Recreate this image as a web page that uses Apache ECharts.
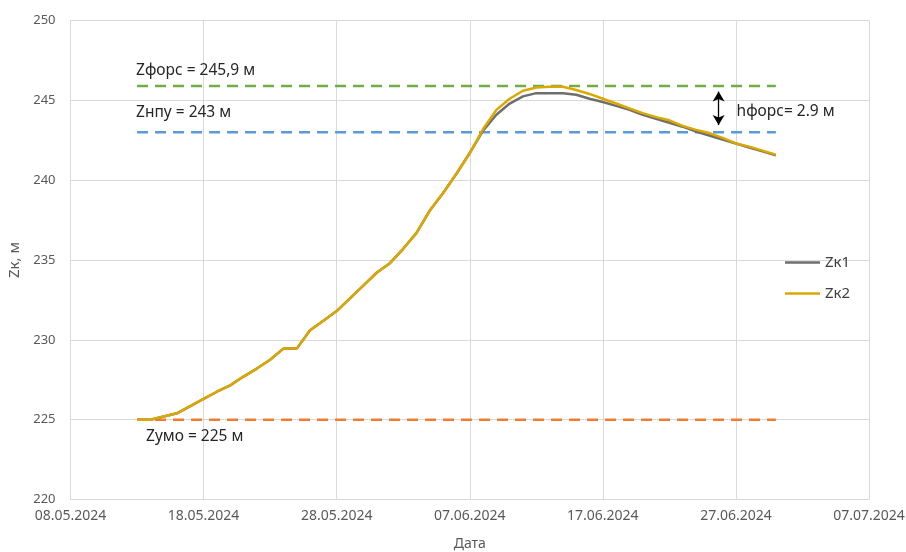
<!DOCTYPE html>
<html>
<head>
<meta charset="utf-8">
<style>
  html, body { margin: 0; padding: 0; background: #fff; }
  #chart { width: 906px; height: 552px; }
</style>
<script src="https://cdn.jsdelivr.net/npm/echarts@6/dist/echarts.min.js"></script>
</head>
<body>
<div id="chart"></div>
<script>
// ось X: даты наблюдений
const dates = [
  '13.05.2024', '14.05.2024', '15.05.2024', '16.05.2024', '17.05.2024', '18.05.2024', '19.05.2024',
  '20.05.2024', '21.05.2024', '22.05.2024', '23.05.2024', '24.05.2024', '25.05.2024', '26.05.2024',
  '27.05.2024', '28.05.2024', '29.05.2024', '30.05.2024', '31.05.2024', '01.06.2024', '02.06.2024',
  '03.06.2024', '04.06.2024', '05.06.2024', '06.06.2024', '07.06.2024', '08.06.2024', '09.06.2024',
  '10.06.2024', '11.06.2024', '12.06.2024', '13.06.2024', '14.06.2024', '15.06.2024', '16.06.2024',
  '17.06.2024', '18.06.2024', '19.06.2024', '20.06.2024', '21.06.2024', '22.06.2024', '23.06.2024',
  '24.06.2024', '25.06.2024', '26.06.2024', '27.06.2024', '28.06.2024', '29.06.2024', '30.06.2024'
]

const zk1 = [
  225.0, 225.0, 225.2, 225.4, 225.85, 226.3, 226.75,
  227.15, 227.7, 228.2, 228.75, 229.45, 229.45, 230.6,
  231.2, 231.8, 232.6, 233.4, 234.2, 234.8, 235.7,
  236.7, 238.1, 239.2, 240.4, 241.7, 243.1, 244.1,
  244.8, 245.25, 245.45, 245.45, 245.45, 245.35, 245.1,
  244.9, 244.65, 244.4, 244.1, 243.85, 243.6, 243.35,
  243.05, 242.8, 242.55, 242.3, 242.05, 241.8, 241.55
]

const zk2 = [
  225.0, 225.0, 225.2, 225.4, 225.85, 226.3, 226.75,
  227.15, 227.7, 228.2, 228.75, 229.45, 229.45, 230.6,
  231.2, 231.8, 232.6, 233.4, 234.2, 234.8, 235.7,
  236.7, 238.1, 239.2, 240.4, 241.7, 243.2, 244.4,
  245.1, 245.6, 245.8, 245.85, 245.85, 245.65, 245.4,
  245.1, 244.8, 244.5, 244.2, 243.95, 243.75, 243.4,
  243.15, 242.95, 242.65, 242.3, 242.1, 241.85, 241.6
]

// характерные уровни
const zForce = 245.9
const zNpu = 243
const zUmo = 225
const hForce = 2.9

const xStart = '08.05.2024'
const xEnd = '07.07.2024'
const yTicks = [220, 225, 230, 235, 240, 245, 250]

const DAY = 86400000
const toMs = s => {
  const [d, m, y] = s.split('.').map(Number)
  return Date.UTC(y, m - 1, d)
}
const t0 = toMs(xStart)
const toDay = s => Math.round((toMs(s) - t0) / DAY)
const dayLabel = v => {
  const dt = new Date(t0 + v * DAY)
  const p = n => String(n).padStart(2, '0')
  return p(dt.getUTCDate()) + '.' + p(dt.getUTCMonth() + 1) + '.' + dt.getUTCFullYear()
}

const days = dates.map(toDay)
const firstDay = days[0]
const lastDay = days[days.length - 1]
const refLine = v => [[firstDay, v], [lastDay, v]]

const font = '"Noto Sans", sans-serif'
const chart = echarts.init(document.getElementById('chart'))

const option = {
  animation: false,
  textStyle: { fontFamily: font },
  grid: { left: 70.5, right: 37, top: 20.5, bottom: 52.5, outerBoundsMode: 'none', containLabel: false },
  legend: {
    data: ['Zк1', 'Zк2'],
    orient: 'vertical',
    left: 780,
    top: 250,
    icon: 'rect',
    itemWidth: 35,
    itemHeight: 2.5,
    itemGap: 16,
    textStyle: { fontSize: 15, color: '#404040', fontFamily: font, lineHeight: 14, height: 14 }
  },
  xAxis: {
    type: 'value',
    min: 0,
    max: toDay(xEnd),
    interval: 10,
    name: 'Дата',
    nameLocation: 'middle',
    nameGap: 38,
    nameTextStyle: { fontSize: 14, color: '#595959' },
    axisLine: { show: true, lineStyle: { color: '#d9d9d9', width: 1 } },
    axisTick: { show: false },
    axisLabel: { fontSize: 14, color: '#595959', margin: 10, formatter: dayLabel, showMinLabel: true, showMaxLabel: true },
    splitLine: { show: true, lineStyle: { color: '#d9d9d9', width: 1 } }
  },
  yAxis: {
    type: 'value',
    min: yTicks[0],
    max: yTicks[yTicks.length - 1],
    interval: 5,
    name: 'Zк, м',
    nameLocation: 'middle',
    nameGap: 41,
    nameRotate: 90,
    nameTextStyle: { fontSize: 15, color: '#595959' },
    axisLine: { show: true, lineStyle: { color: '#d9d9d9' } },
    axisTick: { show: false },
    axisLabel: { fontSize: 13, color: '#595959', margin: 15 },
    splitLine: { lineStyle: { color: '#d9d9d9', width: 1 } }
  },
  series: [
    {
      name: 'Zфорс',
      type: 'line',
      symbol: 'none',
      data: refLine(zForce),
      lineStyle: { color: '#70ad47', width: 2.5, type: [11, 7] },
      markLine: {
        silent: true,
        symbol: ['arrow', 'arrow'],
        symbolSize: [9, 10],
        label: { show: false },
        lineStyle: { color: '#000', width: 1.3, type: 'solid' },
        data: [[{ coord: [48.7, zForce - 0.35] }, { coord: [48.7, zForce - hForce + 0.45] }]]
      }
    },
    {
      name: 'Zнпу',
      type: 'line',
      symbol: 'none',
      data: refLine(zNpu),
      lineStyle: { color: '#5b9bd5', width: 2.5, type: [11, 7] }
    },
    {
      name: 'Zумо',
      type: 'line',
      symbol: 'none',
      data: refLine(zUmo),
      lineStyle: { color: '#ed7d31', width: 2.5, type: [11, 7] }
    },
    {
      name: 'Zк1',
      type: 'line',
      symbol: 'none',
      data: days.map((d, i) => [d, zk1[i]]),
      lineStyle: { color: '#6e6e6e', width: 2.5 },
      itemStyle: { color: '#6e6e6e' }
    },
    {
      name: 'Zк2',
      type: 'line',
      symbol: 'none',
      data: days.map((d, i) => [d, zk2[i]]),
      lineStyle: { color: '#dca800', width: 2.5 },
      itemStyle: { color: '#dca800' }
    }
  ]
}

chart.setOption(option)

// подписи уровней, привязанные к координатам данных
const at = (d, v) => chart.convertToPixel({ gridIndex: 0 }, [d, v])
const note = (txt, d, v, dx, dy) => {
  const p = at(d, v)
  return {
    type: 'text',
    x: p[0] + dx,
    y: p[1] + dy,
    style: { text: txt, fill: '#262626', font: '15.5px ' + font, textVerticalAlign: 'middle' }
  }
}
chart.setOption({
  graphic: [
    note('Zфорс = ' + String(zForce).replace('.', ',') + ' м', firstDay, zForce, -1, -15),
    note('Zнпу = ' + zNpu + ' м', firstDay, zNpu, -1, -20),
    note('Zумо = ' + zUmo + ' м', firstDay, zUmo, 9, 17),
    note('hфорс= ' + hForce + ' м', 48.7, (zForce + zNpu) / 2, 18, 2)
  ]
})
</script>
</body>
</html>
